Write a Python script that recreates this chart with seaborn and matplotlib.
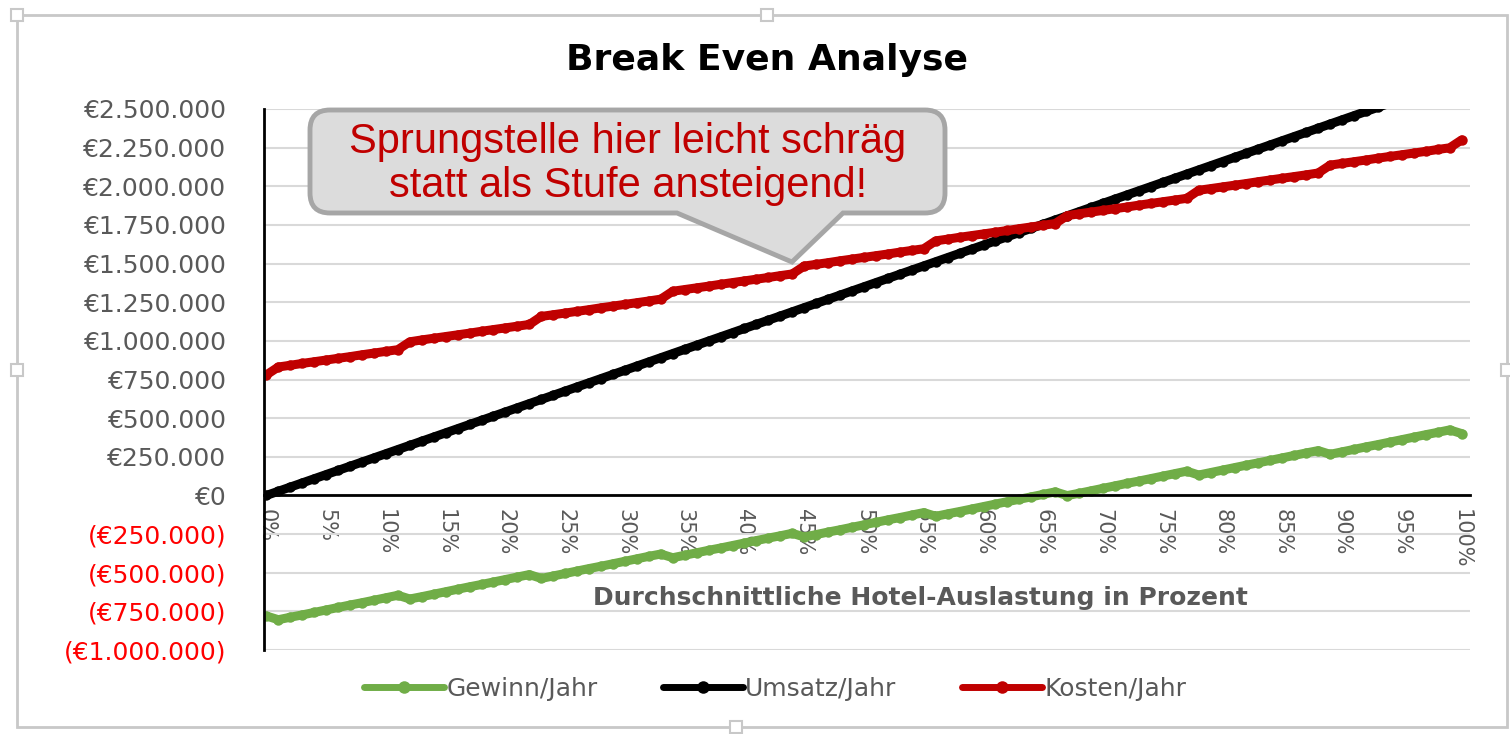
import matplotlib
matplotlib.use("Agg")
import matplotlib.pyplot as plt
import seaborn as sns
import pandas as pd
from matplotlib.path import Path
from matplotlib.patches import PathPatch, Rectangle

# Auslastung in Prozent
auslastung = list(range(0, 101))

# Werte in Tausend Euro
umsatz = [0, 27, 54, 81, 108, 135, 162, 189, 216, 243,
          270, 297, 324, 351, 378, 405, 432, 459, 486, 513,
          540, 567, 594, 621, 648, 675, 702, 729, 756, 783,
          810, 837, 864, 891, 918, 945, 972, 999, 1026, 1053,
          1080, 1107, 1134, 1161, 1188, 1215, 1242, 1269, 1296, 1323,
          1350, 1377, 1404, 1431, 1458, 1485, 1512, 1539, 1566, 1593,
          1620, 1647, 1674, 1701, 1728, 1755, 1782, 1809, 1836, 1863,
          1890, 1917, 1944, 1971, 1998, 2025, 2052, 2079, 2106, 2133,
          2160, 2187, 2214, 2241, 2268, 2295, 2322, 2349, 2376, 2403,
          2430, 2457, 2484, 2511, 2538, 2565, 2592, 2619, 2646, 2673,
          2700]
kosten = [780, 831, 842, 854, 865, 876, 887, 898, 910, 921,
          932, 943, 994, 1006, 1017, 1028, 1039, 1050, 1062, 1073,
          1084, 1095, 1106, 1158, 1169, 1180, 1191, 1202, 1214, 1225,
          1236, 1247, 1258, 1270, 1321, 1332, 1343, 1354, 1366, 1377,
          1388, 1399, 1410, 1422, 1433, 1484, 1495, 1506, 1518, 1529,
          1540, 1551, 1562, 1574, 1585, 1596, 1647, 1658, 1670, 1681,
          1692, 1703, 1714, 1726, 1737, 1748, 1759, 1810, 1822, 1833,
          1844, 1855, 1866, 1878, 1889, 1900, 1911, 1922, 1974, 1985,
          1996, 2007, 2018, 2030, 2041, 2052, 2063, 2074, 2086, 2137,
          2148, 2159, 2170, 2182, 2193, 2204, 2215, 2226, 2238, 2249,
          2300]
gewinn = [-780, -804, -788, -773, -757, -741, -725, -709, -694, -678,
          -662, -646, -670, -655, -639, -623, -607, -591, -576, -560,
          -544, -528, -512, -537, -521, -505, -489, -473, -458, -442,
          -426, -410, -394, -379, -403, -387, -371, -355, -340, -324,
          -308, -292, -276, -261, -245, -269, -253, -237, -222, -206,
          -190, -174, -158, -143, -127, -111, -135, -119, -104, -88,
          -72, -56, -40, -25, -9, 7, 23, -1, 14, 30,
          46, 62, 78, 93, 109, 125, 141, 157, 132, 148,
          164, 180, 196, 211, 227, 243, 259, 275, 290, 266,
          282, 298, 314, 329, 345, 361, 377, 393, 408, 424,
          400]

y_ticks = [-1000000, -750000, -500000, -250000, 0, 250000, 500000, 750000,
           1000000, 1250000, 1500000, 1750000, 2000000, 2250000, 2500000]
y_labels = ["(€1.000.000)", "(€750.000)", "(€500.000)", "(€250.000)", "€0",
            "€250.000", "€500.000", "€750.000", "€1.000.000", "€1.250.000",
            "€1.500.000", "€1.750.000", "€2.000.000", "€2.250.000", "€2.500.000"]
x_ticks = [0, 5, 10, 15, 20, 25, 30, 35, 40, 45, 50, 55, 60, 65, 70, 75, 80, 85, 90, 95, 100]
x_labels = [f"{v}%" for v in x_ticks]

df = pd.DataFrame({
    "auslastung": auslastung,
    "Gewinn/Jahr": [v * 1000 for v in gewinn],
    "Umsatz/Jahr": [v * 1000 for v in umsatz],
    "Kosten/Jahr": [v * 1000 for v in kosten],
})

sns.set_style("white")
plt.rcParams["font.family"] = ["DejaVu Sans"]

W, H = 1510, 734
fig = plt.figure(figsize=(W / 100, H / 100), dpi=100)
ax = fig.add_axes([264 / W, 1 - 650 / H, (1470 - 264) / W, (650 - 109) / H])

colors = {"Gewinn/Jahr": "#70ad47", "Umsatz/Jahr": "#000000", "Kosten/Jahr": "#c00000"}
for name, col in colors.items():
    sns.lineplot(data=df, x="auslastung", y=name, ax=ax, color=col, label=name,
                 marker="o", markersize=7.5, markeredgewidth=0, linewidth=6.5)

ax.set_xlim(-0.2, 100.7)
ax.set_ylim(-1000000, 2500000)
ax.set_xlabel("")
ax.set_ylabel("")

ax.set_yticks(y_ticks)
ax.set_yticklabels(y_labels)
for lbl, v in zip(ax.get_yticklabels(), y_ticks):
    lbl.set_color("#ff0000" if v < 0 else "#595959")
ax.tick_params(axis="y", length=0, pad=27, labelsize=18)

ax.set_xticks(x_ticks)
ax.set_xticklabels(x_labels)
ax.tick_params(axis="x", direction="out", length=6, width=1.5, color="black",
               pad=4, labelsize=15, labelcolor="#595959", labelrotation=270)

ax.yaxis.grid(True, color="#d9d9d9", linewidth=1.5)
ax.set_axisbelow(True)
ax.spines["top"].set_visible(False)
ax.spines["right"].set_visible(False)
ax.spines["left"].set_color("black")
ax.spines["left"].set_linewidth(2)
ax.spines["bottom"].set_position(("data", 0))
ax.spines["bottom"].set_color("black")
ax.spines["bottom"].set_linewidth(2)

leg = ax.legend(loc="center", bbox_to_anchor=(775 / W, 1 - 689 / H), bbox_transform=fig.transFigure,
                ncol=3, frameon=False, fontsize=18, handlelength=3.2, handletextpad=0.1,
                columnspacing=2.6)
for t in leg.get_texts():
    t.set_color("#595959")
for h in leg.get_lines():
    h.set_linewidth(5)
    h.set_markersize(9)

fig.text(767 / W, 1 - 60 / H, "Break Even Analyse", ha="center", va="center",
         fontsize=26, fontweight="bold", color="black")
fig.text(920 / W, 1 - 598 / H, "Durchschnittliche Hotel-Auslastung in Prozent",
         ha="center", va="center", fontsize=18, fontweight="bold", color="#595959")

# Overlay in Pixelkoordinaten fuer Rahmen und Sprechblase
ov = fig.add_axes([0, 0, 1, 1], zorder=5)
ov.set_xlim(0, W)
ov.set_ylim(H, 0)
ov.axis("off")
ov.patch.set_alpha(0)

ov.add_patch(Rectangle((17, 15), 1490, 712, fill=False, edgecolor="#c8c8c8", linewidth=2))
for hx, hy in [(17, 15), (767, 15), (17, 370), (1507, 370), (736, 727)]:
    ov.add_patch(Rectangle((hx - 6, hy - 6), 12, 12, facecolor="white", edgecolor="#c8c8c8", linewidth=1.5))

L, R, T, B, r = 310, 945, 110, 213, 20
verts = [(L + r, T), (R - r, T), (R, T), (R, T + r), (R, B - r), (R, B), (R - r, B),
         (843, B), (792, 262), (677, B), (L + r, B), (L, B), (L, B - r), (L, T + r), (L, T),
         (L + r, T), (L + r, T)]
codes = [Path.MOVETO, Path.LINETO, Path.CURVE3, Path.CURVE3, Path.LINETO, Path.CURVE3, Path.CURVE3,
         Path.LINETO, Path.LINETO, Path.LINETO, Path.LINETO, Path.CURVE3, Path.CURVE3, Path.LINETO,
         Path.CURVE3, Path.CURVE3, Path.CLOSEPOLY]
ov.add_patch(PathPatch(Path(verts, codes), facecolor="#dcdcdc", edgecolor="#a6a6a6", linewidth=3.5))
ov.text(628, 164, "Sprungstelle hier leicht schräg\nstatt als Stufe ansteigend!",
        ha="center", va="center", color="#c00000", fontsize=30, family="Liberation Sans",
        linespacing=1.15)

fig.savefig("out.png", dpi=100)
